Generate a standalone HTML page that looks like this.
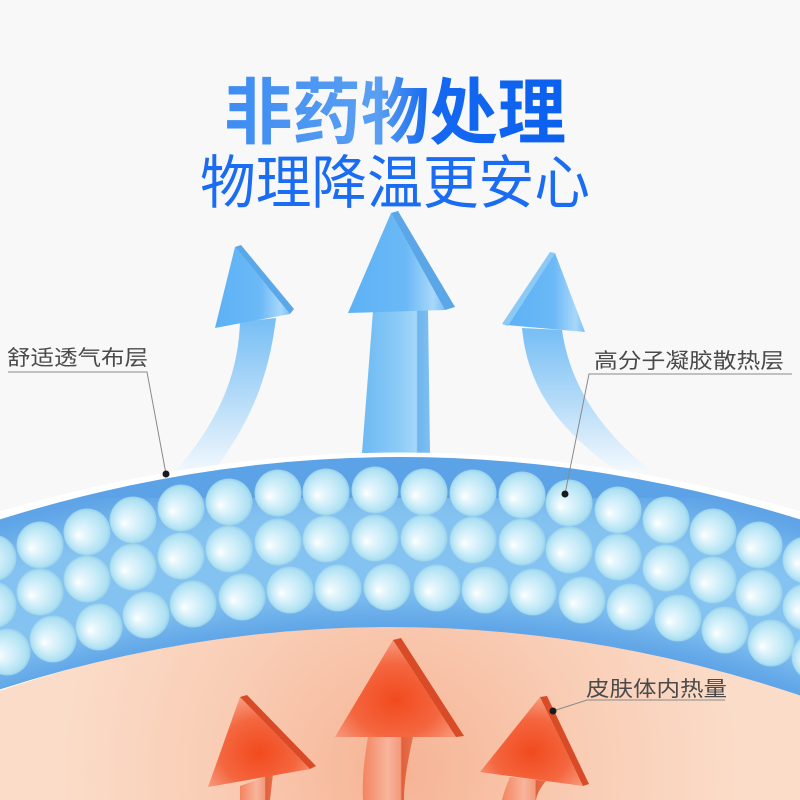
<!DOCTYPE html>
<html><head><meta charset="utf-8"><style>
html,body{margin:0;padding:0;background:#f8f8f8;}
svg{display:block;}
text{font-family:"Liberation Sans","Noto Sans CJK SC",sans-serif;}
</style></head><body>
<svg width="800" height="800" viewBox="0 0 800 800" xmlns="http://www.w3.org/2000/svg">
<defs>
  <radialGradient id="bub" cx="0.5" cy="0.5" r="0.5" fx="0.3" fy="0.58">
    <stop offset="0" stop-color="#ffffff"/>
    <stop offset="0.18" stop-color="#eaf8fd"/>
    <stop offset="0.6" stop-color="#c8ebf8"/>
    <stop offset="0.9" stop-color="#ade0f3"/>
    <stop offset="1" stop-color="#98cfea"/>
  </radialGradient>
  <radialGradient id="skin" cx="400" cy="770" r="340" gradientUnits="userSpaceOnUse">
    <stop offset="0" stop-color="#f6b394"/>
    <stop offset="0.55" stop-color="#f9cdb5"/>
    <stop offset="1" stop-color="#fbdcc8"/>
  </radialGradient>
  <linearGradient id="t1" x1="0" y1="0" x2="1" y2="0">
    <stop offset="0" stop-color="#3d8cf3"/>
    <stop offset="0.45" stop-color="#5a9ff2"/>
    <stop offset="0.6" stop-color="#1468f0"/>
    <stop offset="1" stop-color="#0b60ee"/>
  </linearGradient>
  <linearGradient id="bhead" x1="0" y1="0" x2="1" y2="0">
    <stop offset="0" stop-color="#5cb1f5"/>
    <stop offset="0.6" stop-color="#6bb9f6"/>
    <stop offset="0.88" stop-color="#a8d8fa"/>
    <stop offset="1" stop-color="#78bff6"/>
  </linearGradient>
  <linearGradient id="bshaft" x1="0" y1="0" x2="1" y2="0">
    <stop offset="0" stop-color="#6dbaf4"/>
    <stop offset="0.55" stop-color="#8ccbf7"/>
    <stop offset="0.8" stop-color="#a5d7f9"/>
    <stop offset="0.82" stop-color="#6fb6ee"/>
    <stop offset="1" stop-color="#7dbff1"/>
  </linearGradient>
  <linearGradient id="bfade" x1="0" y1="0" x2="0" y2="1">
    <stop offset="0" stop-color="#76bef5"/>
    <stop offset="0.5" stop-color="#b2daf8"/>
    <stop offset="1" stop-color="#f2f8fd"/>
  </linearGradient>
  <radialGradient id="ohead" cx="0.5" cy="0.62" r="0.62">
    <stop offset="0" stop-color="#f24a1e"/>
    <stop offset="0.6" stop-color="#f4663f"/>
    <stop offset="1" stop-color="#f79a7c"/>
  </radialGradient>
  <linearGradient id="oshaft" x1="0" y1="0" x2="1" y2="0">
    <stop offset="0" stop-color="#f3845f"/>
    <stop offset="0.5" stop-color="#f7b59c"/>
    <stop offset="0.75" stop-color="#f49a7c"/>
    <stop offset="0.78" stop-color="#e2603b"/>
    <stop offset="1" stop-color="#e8704c"/>
  </linearGradient>
  <clipPath id="bandclip">
    <path d="M-2,520 Q400,394 802,520 L802,696 Q400,561 -2,690 Z"/>
  </clipPath>
  <filter id="blur" x="-20%" y="-50%" width="140%" height="200%">
    <feGaussianBlur stdDeviation="16"/>
  </filter>
</defs>

<rect width="800" height="800" fill="#f8f8f8"/>

<!-- skin -->
<rect x="0" y="560" width="800" height="240" fill="url(#skin)"/>

<!-- blue arrows -->
<path d="M240,322 C238,380 215,425 175,472 L213,472 C245,430 268,385 276,318 Z" fill="url(#bfade)"/>
<polygon points="235,247 215,328 290,314" fill="url(#bhead)"/>
<polygon points="235,247 241,245 294,309 290,314" fill="#5aa8ea"/>
<polygon points="373,311 428,309 430,453 362,453" fill="url(#bshaft)"/>
<polygon points="391,213 348,313 445,310" fill="url(#bhead)"/>
<polygon points="391,213 398,211 455,307 445,310" fill="#5aa6e6"/>
<path d="M522,328 C528,390 560,430 615,470 L650,470 C600,430 570,385 562,330 Z" fill="url(#bfade)"/>
<polygon points="555,253 507,325 585,332" fill="url(#bhead)"/>
<polygon points="550,252 555,253 508,326 502,324" fill="#8ccaf6"/>

<!-- white rim -->
<path d="M-100,636 Q400,440 900,636" fill="none" stroke="#ffffff" stroke-width="171"/>
<!-- band -->
<g clip-path="url(#bandclip)">
  <rect x="0" y="390" width="800" height="320" fill="#5ca2e6"/>
  <path d="M-100,645 Q400,449 900,645" fill="none" stroke="#84c3f1" stroke-width="120" filter="url(#blur)"/>
</g>

<!-- bubbles -->
<g fill="url(#bub)">
<circle cx="-7" cy="558" r="23.5"/><circle cx="40" cy="545" r="23.5"/><circle cx="87" cy="532" r="23.5"/><circle cx="133" cy="520" r="23.5"/><circle cx="181" cy="508" r="23.5"/><circle cx="229" cy="502" r="23.5"/><circle cx="278" cy="493" r="23.5"/><circle cx="326" cy="492" r="23.5"/><circle cx="375" cy="490" r="23.5"/><circle cx="424" cy="492" r="23.5"/><circle cx="473" cy="493" r="23.5"/><circle cx="522" cy="495" r="23.5"/><circle cx="569" cy="503" r="23.5"/><circle cx="618" cy="510" r="23.5"/><circle cx="666" cy="520" r="23.5"/><circle cx="713" cy="532" r="23.5"/><circle cx="759" cy="545" r="23.5"/><circle cx="806" cy="560" r="23.5"/>
<circle cx="-7" cy="605" r="23.5"/><circle cx="40" cy="592" r="23.5"/><circle cx="87" cy="579" r="23.5"/><circle cx="133" cy="567" r="23.5"/><circle cx="181" cy="556" r="23.5"/><circle cx="229" cy="549" r="23.5"/><circle cx="278" cy="542" r="23.5"/><circle cx="326" cy="539" r="23.5"/><circle cx="375" cy="538" r="23.5"/><circle cx="424" cy="538" r="23.5"/><circle cx="473" cy="540" r="23.5"/><circle cx="522" cy="542" r="23.5"/><circle cx="569" cy="550" r="23.5"/><circle cx="618" cy="557" r="23.5"/><circle cx="666" cy="568" r="23.5"/><circle cx="713" cy="580" r="23.5"/><circle cx="759" cy="593" r="23.5"/><circle cx="806" cy="607" r="23.5"/>
<circle cx="7" cy="652" r="23.5"/><circle cx="53" cy="639" r="23.5"/><circle cx="99" cy="627" r="23.5"/><circle cx="146" cy="615" r="23.5"/><circle cx="193" cy="604" r="23.5"/><circle cx="242" cy="597" r="23.5"/><circle cx="290" cy="590" r="23.5"/><circle cx="338" cy="588" r="23.5"/><circle cx="387" cy="587" r="23.5"/><circle cx="437" cy="588" r="23.5"/><circle cx="485" cy="590" r="23.5"/><circle cx="533" cy="592" r="23.5"/><circle cx="582" cy="600" r="23.5"/><circle cx="630" cy="607" r="23.5"/><circle cx="678" cy="618" r="23.5"/><circle cx="725" cy="630" r="23.5"/><circle cx="771" cy="643" r="23.5"/><circle cx="815" cy="657" r="23.5"/>
</g>

<!-- orange arrows -->
<path d="M368,737 L413,737 C408,760 404,780 404,800 L363,800 C362,780 364,760 368,737 Z" fill="url(#oshaft)"/>
<polygon points="393,640 335,737 456,737" fill="url(#ohead)"/>
<polygon points="393,640 401,638 464,736 456,737" fill="#d94a26"/>
<polygon points="240,786 273,774 270,800 240,800" fill="url(#oshaft)"/>
<polygon points="240,697 208,787 310,769" fill="url(#ohead)"/>
<polygon points="240,697 247,695 316,766 310,769" fill="#d94a26"/>
<path d="M510,777 L546,781 C540,788 537,794 536,800 L502,800 C504,792 507,784 510,777 Z" fill="url(#oshaft)"/>
<polygon points="540,697 480,772 583,786" fill="url(#ohead)"/>
<polygon points="540,697 547,696 589,784 583,786" fill="#d94a26"/>

<!-- title -->
<text x="224" y="138" font-size="72" font-weight="bold" fill="url(#t1)" textLength="342" lengthAdjust="spacingAndGlyphs">非药物处理</text>
<text x="200" y="203" font-size="58" fill="#1a6cf2" textLength="390" lengthAdjust="spacingAndGlyphs">物理降温更安心</text>

<!-- labels -->
<g fill="#4a4a4a" font-size="21">
<text x="7" y="365" textLength="141" lengthAdjust="spacingAndGlyphs">舒适透气布层</text>
<text x="594" y="368" textLength="190" lengthAdjust="spacingAndGlyphs">高分子凝胶散热层</text>
<text x="586" y="696" textLength="141" lengthAdjust="spacingAndGlyphs">皮肤体内热量</text>
</g>
<g stroke="#8a8a8a" stroke-width="1" fill="none">
<polyline points="8,372 147,372 166,474"/>
<polyline points="792,374 589,374 565,494"/>
<polyline points="725,700 587,700 553,711"/>
</g>
<g fill="#1a1a1a">
<circle cx="166" cy="474" r="3.5"/>
<circle cx="565" cy="494" r="3.5"/>
<circle cx="553" cy="711" r="3.5"/>
</g>
</svg>
</body></html>
